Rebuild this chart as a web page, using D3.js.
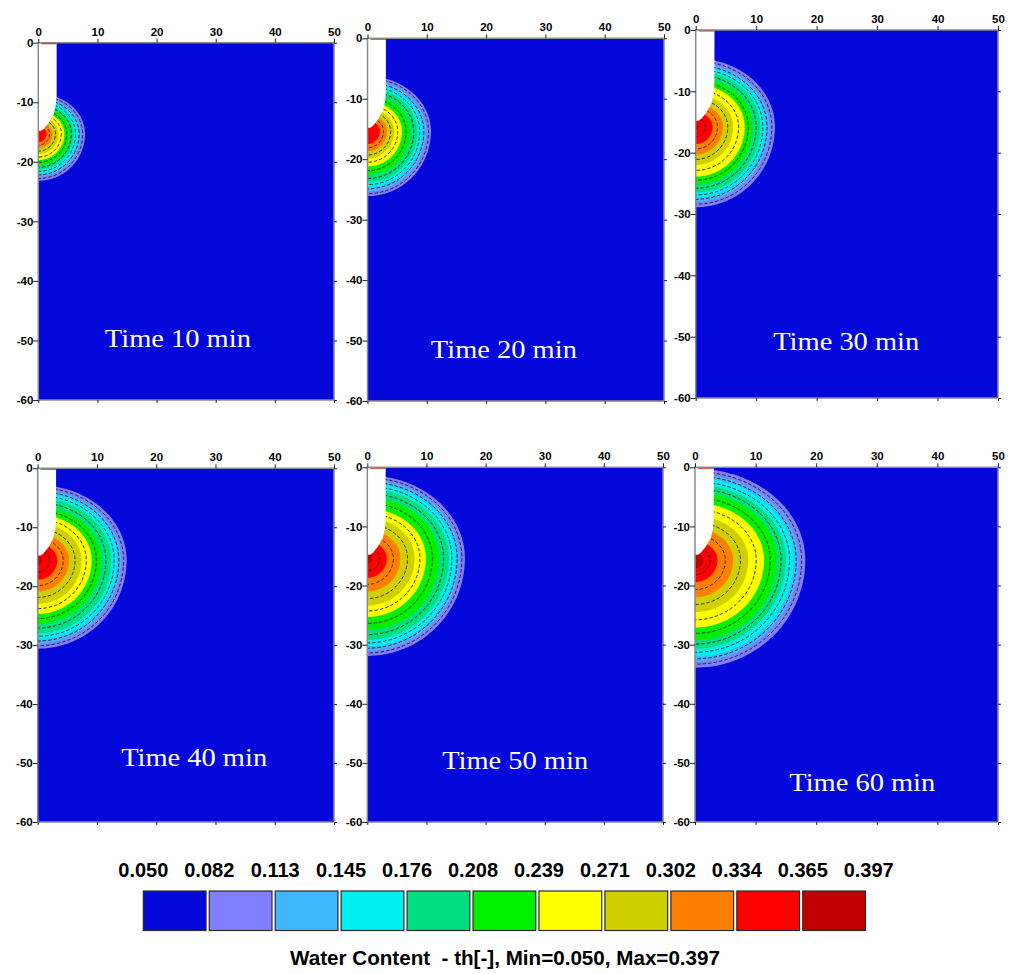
<!DOCTYPE html>
<html>
<head>
<meta charset="utf-8">
<title>Water Content</title>
<script src="https://d3js.org/d3.v7.min.js"></script>
<style>
    body { margin: 0; background: #fff; }
    svg text { font-family: "Liberation Sans", Arial, sans-serif; }
    .tick text { font-weight: bold; font-size: 11.5px; fill: #000; }
    .tick line { stroke: #222; }
    .domain { display: none; }
    .time-label { font-family: "Liberation Serif", "Times New Roman", serif; fill: #fff; font-size: 26px; }
</style>
</head>
<body>
<svg id="chart" width="1013" height="974"></svg>
<script>
    // legend classes (water content th[-])
    const levels = ["0.050", "0.082", "0.113", "0.145", "0.176", "0.208", "0.239", "0.271", "0.302", "0.334", "0.365", "0.397"];
    const colors = ["#0408db", "#7f7fff", "#3fb7ff", "#00f0f0", "#00e080", "#00f000", "#ffff00", "#d0d000", "#ff8000", "#ff0000", "#c00000"];

    const times = ["Time 10 min", "Time 20 min", "Time 30 min", "Time 40 min", "Time 50 min", "Time 60 min"];
    const xTicks = [0, 10, 20, 30, 40, 50];
    const yTicks = [0, -10, -20, -30, -40, -50, -60];

    // depth (cm) of the centre of the wetting bulb
    const centres = [15.3, 15.4, 15.8, 15.6, 15.4, 15.7];

    // horizontal radius (cm) of each class boundary 0.082 ... 0.365
    const front10 = [7.9, 7.2, 6.7, 6.0, 5.3, 4.4, 3.4, 2.4, 1.4, 0];
    const front20 = [10.7, 9.9, 9.2, 8.4, 7.2, 5.8, 4.5, 3.3, 2.1, 0];
    const front30 = [13.1, 12.2, 11.5, 10.7, 9.4, 8.1, 6.2, 4.5, 2.8, 0.5];
    const front40 = [15.0, 14.1, 13.4, 12.4, 10.7, 9.1, 7.4, 5.3, 3.3, 0.8];
    const front50 = [16.5, 15.6, 14.9, 13.8, 12.1, 9.9, 8.0, 5.6, 3.3, 0.9];
    const front60 = [18.2, 17.1, 16.3, 15.0, 13.5, 11.4, 8.8, 6.3, 3.7, 1.4];
    const fronts = [front10, front20, front30, front40, front50, front60];

    // dashed isolines (cm)
    const iso10 = [7.5, 6.9, 6.3, 5.6, 4.8, 3.9, 2.9, 1.9];
    const iso20 = [10.3, 9.5, 8.8, 7.8, 6.5, 5.1, 3.9, 2.7];
    const iso30 = [12.6, 11.8, 11.1, 10.0, 8.7, 7.1, 5.3, 3.6, 1.6];
    const iso40 = [14.5, 13.7, 12.9, 11.5, 9.9, 8.2, 6.3, 4.3, 2.0];
    const iso50 = [16.0, 15.2, 14.3, 12.9, 11.0, 8.9, 6.8, 4.4, 2.1];
    const iso60 = [17.6, 16.7, 15.6, 14.2, 12.4, 10.1, 7.5, 5.0, 2.5];
    const isolines = [iso10, iso20, iso30, iso40, iso50, iso60];

    // dripper hole outline [x, depth]
    const hole = [[0, 0], [3.1, 0], [3.1, 9], [2.95, 10.5], [2.6, 12], [1.8, 13.4], [1.0, 14.4], [0.5, 14.8], [0, 14.8]];

    // label anchor [x, depth]
    const labelX = [23.6, 23.0, 24.9, 26.4, 25.0, 27.6];
    const labelD = [51.1, 52.9, 52.2, 50.5, 51.0, 54.7];

    // panel placement in the page (px)
    const panels = [
        {left: 38.3, right: 334, top: 42.7, bottom: 400},
        {left: 367.5, right: 664, top: 38.3, bottom: 401},
        {left: 695.7, right: 998, top: 30, bottom: 398},
        {left: 37.7, right: 334, top: 468.3, bottom: 822},
        {left: 367.3, right: 663, top: 467.3, bottom: 822},
        {left: 695, right: 998, top: 467.3, bottom: 822}
    ];

    const upFactor = 0.85;  // bulb is flatter above its centre
    const svg = d3.select("#chart");

    function bulb(r, dc, steps) {
        const pts = [];
        for (let i = 0; i <= steps; i++) {
            const phi = Math.PI * i / steps;
            const c = Math.cos(phi);
            const ry = c > 0 ? r * upFactor : r;
            pts.push([r * Math.sin(phi), dc - ry * c]);
        }
        return pts;
    }

    panels.forEach((p, k) => {
        const x = d3.scaleLinear().domain([0, 50]).range([p.left, p.right]);
        const y = d3.scaleLinear().domain([0, -60]).range([p.top, p.bottom]);
        const g = svg.append("g");
        const line = d3.line().x(d => x(d[0])).y(d => y(-d[1]));

        const clipId = "clip" + k;
        svg.append("clipPath").attr("id", clipId)
            .append("rect")
            .attr("x", x(0)).attr("y", y(0))
            .attr("width", x(50) - x(0)).attr("height", y(-60) - y(0));

        const plot = g.append("g").attr("clip-path", `url(#${clipId})`);
        plot.append("rect")
            .attr("x", x(0)).attr("y", y(0))
            .attr("width", x(50) - x(0)).attr("height", y(-60) - y(0))
            .attr("fill", colors[0]);

        fronts[k].forEach((r, i) => {
            if (r <= 0) return;
            const pts = bulb(r, centres[k], 80);
            plot.append("path")
                .attr("d", line(pts) + "Z")
                .attr("fill", colors[i + 1]);
        });

        isolines[k].forEach(r => {
            plot.append("path")
                .attr("d", line(bulb(r, centres[k], 80)))
                .attr("fill", "none")
                .attr("stroke", "#1a1a1a")
                .attr("stroke-width", 0.9)
                .attr("stroke-dasharray", "3.5,2");
        });

        plot.append("path")
            .attr("d", line(hole) + "Z")
            .attr("fill", "#fff");

        plot.append("line")
            .attr("x1", x(0.5)).attr("x2", x(3.1))
            .attr("y1", y(0) + 0.8).attr("y2", y(0) + 0.8)
            .attr("stroke", "#e02020").attr("stroke-width", 1.5);

        // frame
        g.append("rect")
            .attr("x", x(0)).attr("y", y(0))
            .attr("width", x(50) - x(0)).attr("height", y(-60) - y(0))
            .attr("fill", "none").attr("stroke", "#8a8a8a").attr("stroke-width", 1.5);

        g.append("g")
            .attr("transform", `translate(0,${y(0)})`)
            .call(d3.axisTop(x).tickValues(xTicks).tickFormat(d => String(d)).tickSize(4).tickPadding(3));
        g.append("g")
            .attr("transform", `translate(${x(0)},0)`)
            .call(d3.axisLeft(y).tickValues(yTicks).tickFormat(d => String(d)).tickSize(5).tickPadding(0));
        g.append("g")
            .attr("transform", `translate(${x(50)},0)`)
            .call(d3.axisRight(y).tickValues(yTicks).tickFormat("").tickSize(3));
        g.append("g")
            .attr("transform", `translate(0,${y(-60)})`)
            .call(d3.axisBottom(x).tickValues(xTicks).tickFormat("").tickSize(3));

        g.append("text")
            .attr("class", "time-label")
            .attr("x", x(labelX[k]))
            .attr("y", y(-labelD[k]))
            .attr("text-anchor", "middle")
            .attr("textLength", 146)
            .attr("lengthAdjust", "spacingAndGlyphs")
            .text(times[k]);
    });

    // legend
    const lx = d3.scaleLinear().domain([0, 11]).range([143.3, 868.7]);
    const legend = svg.append("g");
    legend.selectAll("rect")
        .data(colors)
        .enter()
        .append("rect")
        .attr("x", (d, i) => lx(i))
        .attr("y", 891)
        .attr("width", lx(1) - lx(0) - 3.2)
        .attr("height", 39.5)
        .attr("fill", d => d)
        .attr("stroke", "#2b2b2b")
        .attr("stroke-width", 1.2);

    legend.selectAll("text.lvl")
        .data(levels)
        .enter()
        .append("text")
        .attr("class", "lvl")
        .attr("x", (d, i) => lx(i))
        .attr("y", 877)
        .attr("text-anchor", "middle")
        .style("font-size", "20px")
        .style("font-weight", "bold")
        .text(d => d);

    legend.append("text")
        .attr("x", 505)
        .attr("y", 965)
        .attr("text-anchor", "middle")
        .attr("textLength", 430)
        .attr("lengthAdjust", "spacingAndGlyphs")
        .style("font-size", "19.5px")
        .style("font-weight", "bold")
        .style("white-space", "pre")
        .text("Water Content  - th[-], Min=0.050, Max=0.397");
</script>
</body>
</html>
